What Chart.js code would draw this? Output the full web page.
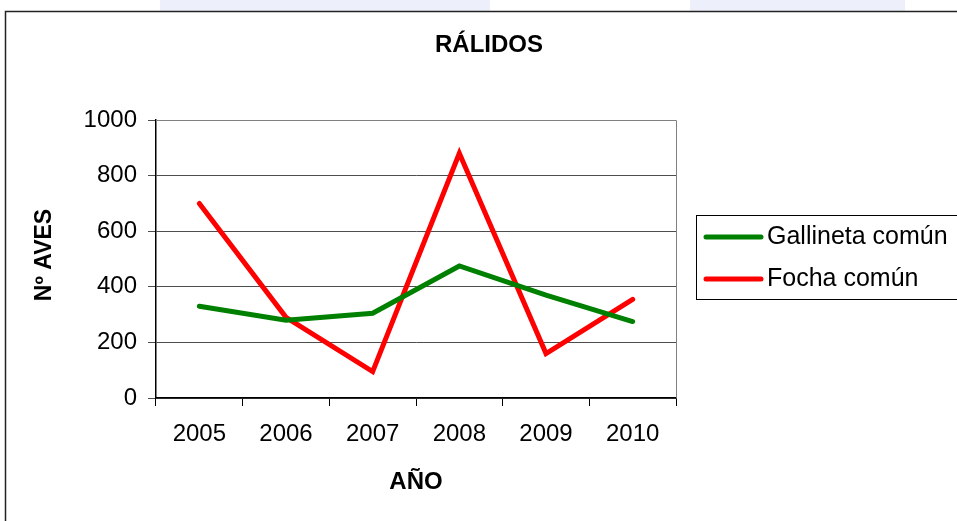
<!DOCTYPE html>
<html lang="es">
<head>
<meta charset="utf-8">
<title>Rálidos</title>
<script src="https://cdn.jsdelivr.net/npm/chart.js@4.4.1/dist/chart.umd.min.js"></script>
<style>
  html, body { margin: 0; padding: 0; background: #fff; }
  #wrap { position: relative; width: 957px; height: 521px; }
</style>
</head>
<body>
<div id="wrap"><canvas id="chart"></canvas></div>
<script>
// =======================
// DATOS
// =======================
const years = ["2005", "2006", "2007", "2008", "2009", "2010"];
const gallineta = [330, 280, 305, 475, 370, 275];
const focha = [700, 290, 95, 880, 160, 355];
const yTicks = [0, 200, 400, 600, 800, 1000];

const FONT = "'Liberation Sans', Arial, sans-serif";

// =======================
// TÍTULOS, MARCO Y LEYENDA
// =======================
const decor = {
  id: 'decor',
  beforeDraw(chart) {
    const ctx = chart.ctx;
    ctx.save();
    // marca de agua tenue arriba
    ctx.fillStyle = '#edf0fa';
    ctx.fillRect(160, 0, 330, 11);
    ctx.fillRect(690, 0, 215, 11);
    // marco exterior
    ctx.strokeStyle = '#222';
    ctx.lineWidth = 1.5;
    ctx.beginPath();
    ctx.moveTo(5.5, 530);
    ctx.lineTo(5.5, 11.5);
    ctx.lineTo(970, 11.5);
    ctx.stroke();
    ctx.restore();
  },
  afterDraw(chart) {
    const ctx = chart.ctx;
    const a = chart.chartArea;
    ctx.save();
    // borde superior y derecho del área
    ctx.strokeStyle = '#808080';
    ctx.lineWidth = 1;
    ctx.beginPath();
    ctx.moveTo(a.left, a.top + 0.5);
    ctx.lineTo(a.right + 0.5, a.top + 0.5);
    ctx.lineTo(a.right + 0.5, a.bottom);
    ctx.stroke();

    ctx.fillStyle = '#000';
    ctx.textAlign = 'center';
    ctx.textBaseline = 'middle';
    ctx.font = 'bold 24px ' + FONT;
    ctx.fillText('RÁLIDOS', 489, 45);
    ctx.fillText('AÑO', (a.left + a.right) / 2, 482);

    ctx.save();
    ctx.translate(45, 255);
    ctx.rotate(-Math.PI / 2);
    ctx.font = 'bold 23px ' + FONT;
    ctx.fillText('Nº AVES', 0, 0);
    ctx.restore();

    // leyenda
    ctx.strokeStyle = '#000';
    ctx.lineWidth = 1;
    ctx.strokeRect(696.5, 215.5, 300, 84);
    ctx.font = '25px ' + FONT;
    ctx.textAlign = 'left';
    chart.data.datasets.forEach((ds, i) => {
      const y = 237 + i * 42;
      ctx.strokeStyle = ds.borderColor;
      ctx.lineWidth = 5;
      ctx.lineCap = 'round';
      ctx.beginPath();
      ctx.moveTo(706, y);
      ctx.lineTo(761, y);
      ctx.stroke();
      ctx.fillStyle = '#000';
      ctx.fillText(ds.label, 767, y);
    });
    ctx.restore();
  }
};

// =======================
// GRÁFICO
// =======================
new Chart(document.getElementById('chart'), {
  type: 'line',
  data: {
    labels: years,
    datasets: [
      {
        label: 'Gallineta común',
        data: gallineta,
        borderColor: '#008000',
        borderWidth: 5,
        borderCapStyle: 'round',
        pointRadius: 0,
        tension: 0
      },
      {
        label: 'Focha común',
        data: focha,
        borderColor: '#ff0000',
        borderWidth: 5,
        borderCapStyle: 'round',
        pointRadius: 0,
        tension: 0
      }
    ]
  },
  options: {
    responsive: true,
    maintainAspectRatio: false,
    devicePixelRatio: 1,
    animation: false,
    layout: { padding: { top: 120, right: 281, left: 0, bottom: 0 } },
    plugins: {
      legend: { display: false },
      title: { display: false },
      tooltip: { enabled: false }
    },
    scales: {
      x: {
        offset: true,
        afterFit: s => { s.height = 123; },
        grid: {
          offset: true,
          drawOnChartArea: false,
          color: '#000',
          tickLength: 8
        },
        border: { color: '#000', width: 1.5 },
        ticks: { color: '#000', font: { family: FONT, size: 24 }, padding: 14 }
      },
      y: {
        min: 0,
        max: 1000,
        afterFit: s => { s.width = 156; },
        afterBuildTicks: s => { s.ticks = yTicks.map(v => ({ value: v })); },
        grid: { color: '#4d4d4d', lineWidth: 1, tickLength: 8 },
        border: { color: '#000', width: 1.5 },
        ticks: {
          color: '#000',
          font: { family: FONT, size: 24 },
          padding: 11,
          callback: v => String(v)
        }
      }
    }
  },
  plugins: [decor]
});
</script>
</body>
</html>
